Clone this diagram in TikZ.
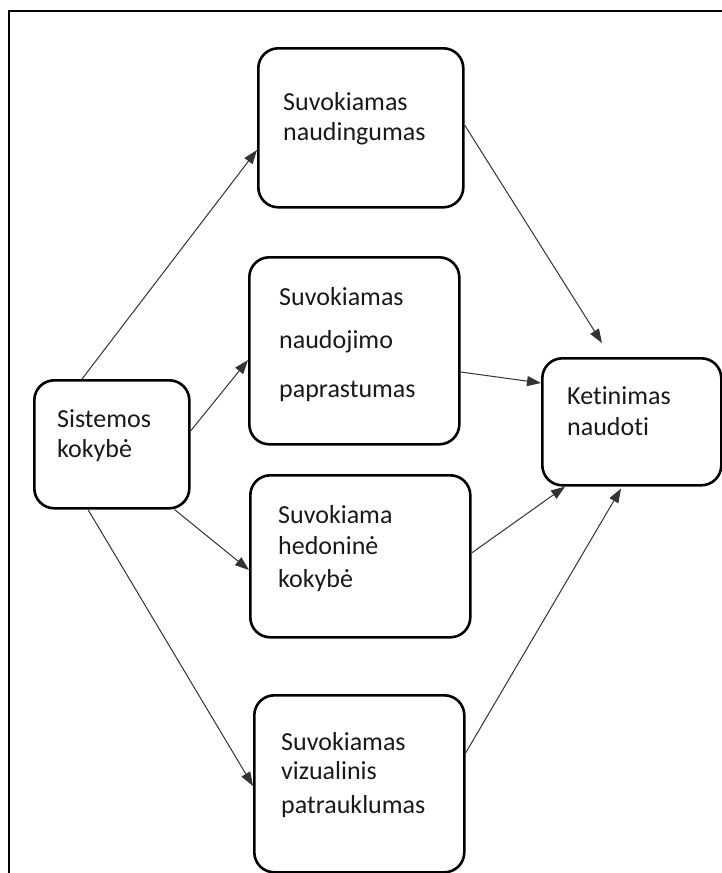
\documentclass[tikz,border=0pt]{standalone}
\usepackage{fontspec}
\setmainfont{Carlito}[Ligatures={NoCommon}]
\usetikzlibrary{arrows.meta,calc}
\begin{document}
\begin{tikzpicture}[x=1pt,y=-1pt,
  box/.style={draw, line width=2.6pt, rounded corners=20pt, anchor=north west, inner sep=0pt},
  lbl/.style={anchor=base west, inner sep=0pt, font=\fontsize{26}{30}\selectfont, text=black!90},
  conn/.style={line width=1pt, draw=black!80, -{Triangle[length=14pt,width=10pt]}}]
\useasboundingbox (0,0) rectangle (722,873);
\draw[line width=2pt] (9,873) -- (9,11) -- (722,11);

\node[box, minimum width=205pt, minimum height=159pt] (A) at (257,47) {};
\node[box, minimum width=155pt, minimum height=128pt] (S) at (33,379) {};
\node[box, minimum width=179pt, minimum height=127pt] (K) at (541,357) {};
\node[box, minimum width=210pt, minimum height=187pt] (P) at (248,256) {};
\node[box, minimum width=220pt, minimum height=162pt] (H) at (249,474) {};
\node[box, minimum width=210pt, minimum height=177pt] (V) at (253,694) {};

\node[lbl] (a1) at (283,110) {Suvokiamas};
\node[lbl] (a2) at (283,140) {naudingumas};
\node[lbl] (s1) at (57,427) {Sistemos};
\node[lbl] (s2) at (57,457) {kokybė};
\node[lbl] (k1) at (567,404) {Ketinimas};
\node[lbl] (k2) at (567,435) {naudoti};
\node[lbl] (p1) at (279,305) {Suvokiamas};
\node[lbl] (p2) at (279,348) {naudojimo};
\node[lbl] (p3) at (279,397) {paprastumas};
\node[lbl] (h1) at (278,523) {Suvokiama};
\node[lbl] (h2) at (278,554) {hedoninė};
\node[lbl] (h3) at (278,587) {kokybė};
\node[lbl] (v1) at (281,750) {Suvokiamas};
\node[lbl] (v2) at (281,779) {vizualinis};
\node[lbl] (v3) at (281,813) {patrauklumas};

\draw[conn] ($(S.north west)+(49,0)$) -- ($(A.north west)+(0,103)$);
\draw[conn] ($(S.north east)+(0,52)$) -- ($(P.north west)+(0,104)$);
\draw[conn] ($(S.south east)+(-16,0)$) -- ($(H.north west)+(0,96)$);
\draw[conn] ($(S.south west)+(55,0)$) -- ($(V.north west)+(0,92)$);
\draw[conn] ($(A.north east)+(0,78)$) -- ($(K.north west)+(61,-14)$);
\draw[conn] ($(P.north east)+(0,116)$) -- ($(K.north west)+(0,26)$);
\draw[conn] ($(H.north east)+(0,79)$) -- ($(K.south west)+(24,0)$);
\draw[conn] ($(V.north east)+(0,59)$) -- ($(K.south west)+(80,2)$);
\end{tikzpicture}
\end{document}
